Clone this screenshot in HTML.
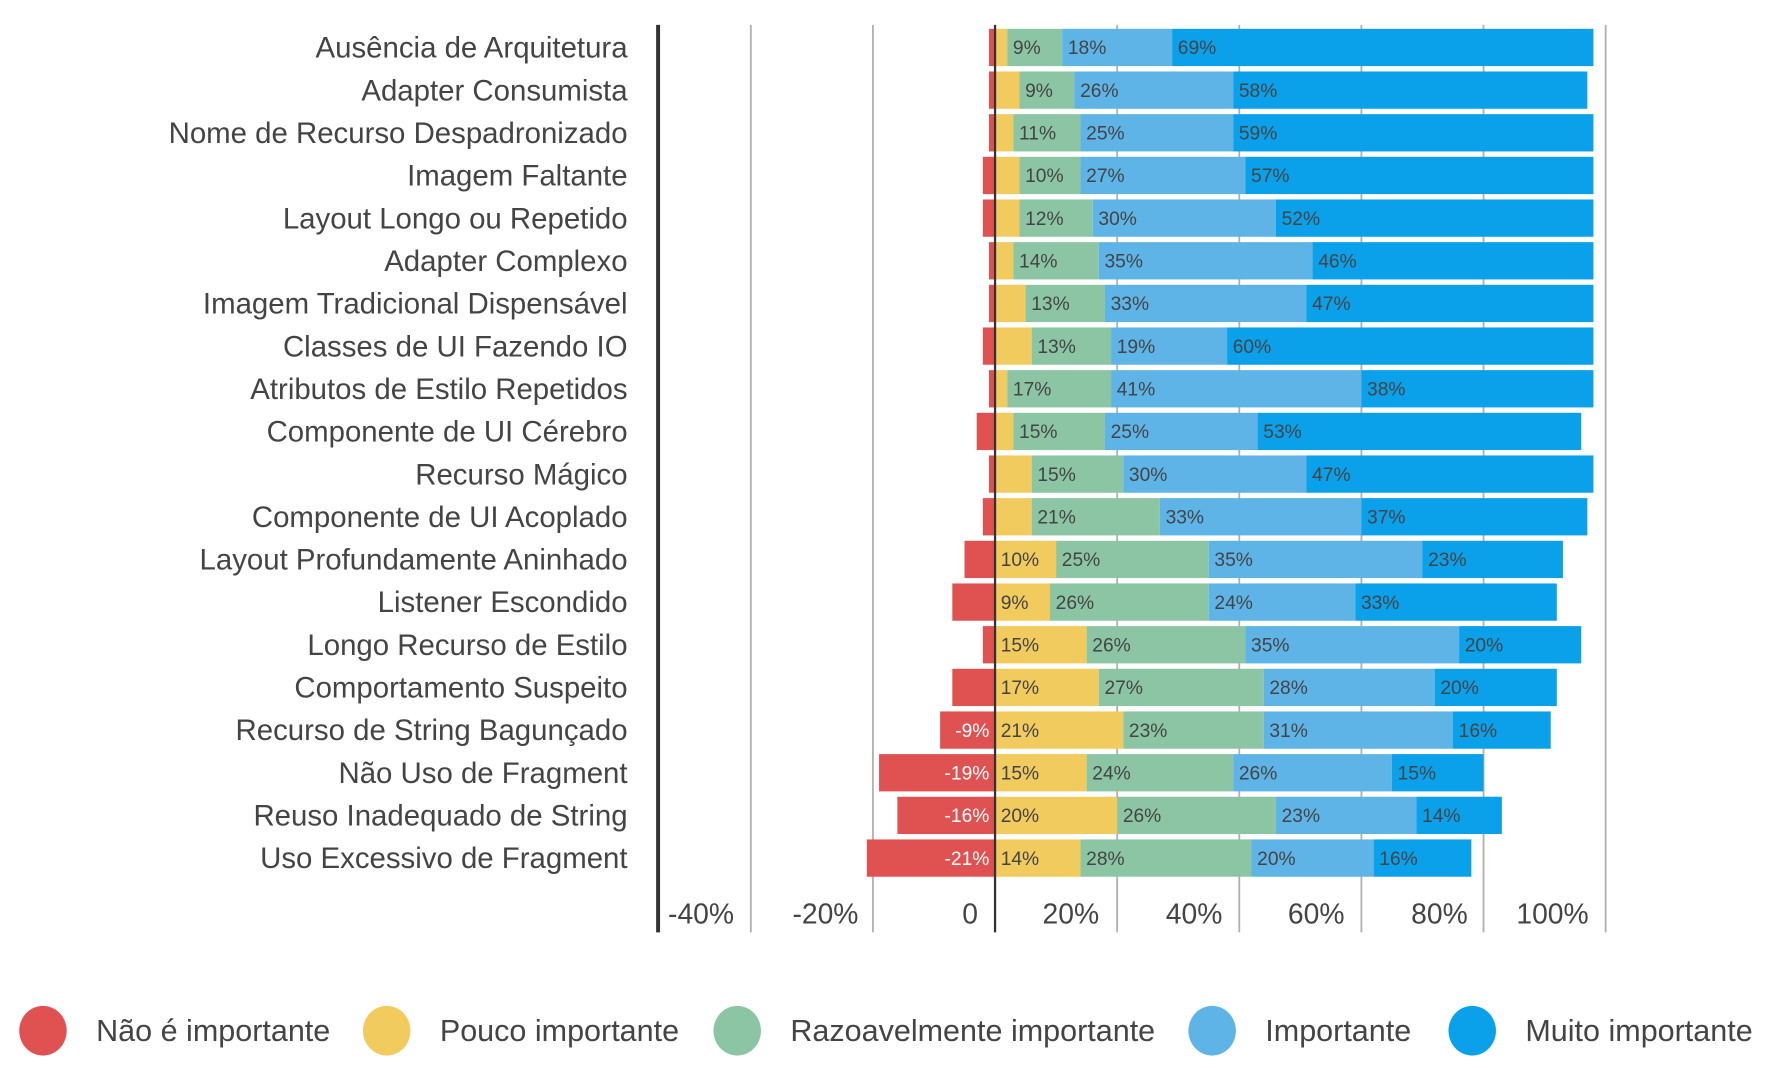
<!DOCTYPE html>
<html><head><meta charset="utf-8"><style>
html,body{margin:0;padding:0;background:#fff;}
svg{display:block;}
text{font-family:"Liberation Sans",sans-serif;fill:#444;}
.v{font-family:"Liberation Sans Narrow","Liberation Sans",sans-serif;font-size:17px;}
</style></head><body>
<svg id="chart" width="1773" height="1068" viewBox="0 0 1568 945" preserveAspectRatio="none" xmlns="http://www.w3.org/2000/svg"></svg>
<script>
const categories=["Ausência de Arquitetura","Adapter Consumista","Nome de Recurso Despadronizado","Imagem Faltante","Layout Longo ou Repetido","Adapter Complexo","Imagem Tradicional Dispensável","Classes de UI Fazendo IO","Atributos de Estilo Repetidos","Componente de UI Cérebro","Recurso Mágico","Componente de UI Acoplado","Layout Profundamente Aninhado","Listener Escondido","Longo Recurso de Estilo","Comportamento Suspeito","Recurso de String Bagunçado","Não Uso de Fragment","Reuso Inadequado de String","Uso Excessivo de Fragment"];
const naoImportante=[1,1,1,2,2,1,1,2,1,3,1,2,5,7,2,7,9,19,16,21];
const poucoImportante=[2,4,3,4,4,3,5,6,2,3,6,6,10,9,15,17,21,15,20,14];
const razoavel=[9,9,11,10,12,14,13,13,17,15,15,21,25,26,26,27,23,24,26,28];
const importante=[18,26,25,27,30,35,33,19,41,25,30,33,35,24,35,28,31,26,23,20];
const muitoImportante=[69,58,59,57,52,46,47,60,38,53,47,37,23,33,20,20,16,15,14,16];
const tickLabels=["-40%","-20%","0","20%","40%","60%","80%","100%"];
const legendLabels=["Não é importante","Pouco importante","Razoavelmente importante","Importante","Muito importante"];

const colors=["#e05252","#f2cb5f","#8cc5a4","#5eb4e6","#0aa0ea"];
const NS="http://www.w3.org/2000/svg";
const svg=document.getElementById('chart');
const x0=880,pxPer=5.4;
const X=v=>x0+v*pxPer;
const rowY=i=>42+i*37.75;
const barH=33;
function mk(tag,attrs,parent){const e=document.createElementNS(NS,tag);for(const k in attrs)e.setAttribute(k,attrs[k]);(parent||svg).appendChild(e);return e;}
const gridVals=[-40,-20,20,40,60,80,100];
gridVals.forEach(v=>{
  const l=mk('line',{x1:X(v),x2:X(v),y1:22,y2:825,stroke:'#b0b0b0','stroke-width':1.6});
  
  
});
const ax=mk('line',{x1:582,x2:582,y1:22,y2:825,stroke:'#333','stroke-width':3.5});


const tickX=[620,730,858,947,1056,1164,1273,1373];
tickLabels.forEach((t,i)=>{
  const e=mk('text',{x:tickX[i],y:817,'text-anchor':'middle','font-size':25});
  e.textContent=t;
  
  
});
const series=[naoImportante,poucoImportante,razoavel,importante,muitoImportante];
categories.forEach((c,i)=>{
  const cy=rowY(i);
  const lab=mk('text',{x:555,y:cy+9,'text-anchor':'end','font-size':26});
  lab.textContent=c;
  
  
  const r=naoImportante[i];
  const rr=mk('rect',{x:X(-r),y:cy-barH/2,width:r*pxPer,height:barH,fill:colors[0]});
  
  
  if(r>=9){const t=mk('text',{x:X(0)-5,y:cy+6,'text-anchor':'end',class:'v',style:'fill:#fff'});t.textContent='-'+r+'%';
    
    }
  let acc=0;
  for(let s=1;s<5;s++){
    const v=series[s][i];
    const b=mk('rect',{x:X(acc),y:cy-barH/2,width:v*pxPer,height:barH,fill:colors[s]});
    
    
    if(v>=9){const t=mk('text',{x:X(acc)+5,y:cy+6,class:'v'});t.textContent=v+'%';
      
      }
    acc+=v;
  }
});
const zl=mk('line',{x1:X(0),x2:X(0),y1:22,y2:825,stroke:'#333','stroke-width':2});


const lx=[38,342,652,1072,1302];
legendLabels.forEach((t,i)=>{
  const g=mk('g',{});
  
  
  mk('ellipse',{cx:lx[i],cy:912,rx:21,ry:22,fill:colors[i]},g);
  const e=mk('text',{x:lx[i]+47,y:921,'font-size':27},g);e.textContent=t;
});
</script>
</body></html>
